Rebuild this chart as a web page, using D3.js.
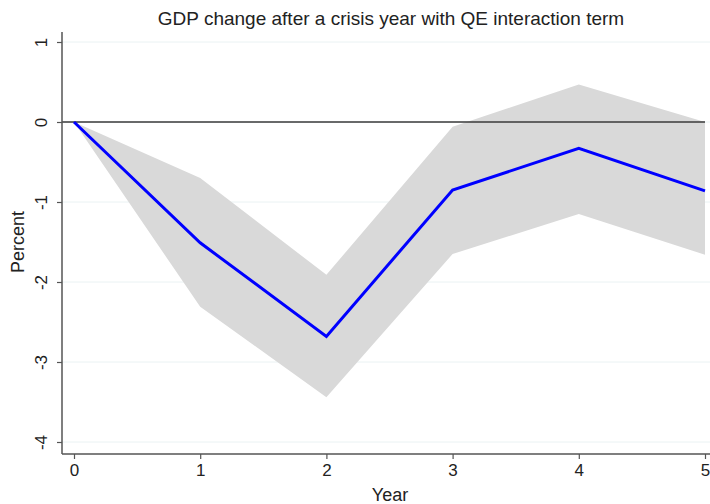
<!DOCTYPE html>
<html>
<head>
<meta charset="utf-8">
<script src="https://cdn.jsdelivr.net/npm/d3@7/dist/d3.min.js"></script>
<style>
  html, body { margin: 0; padding: 0; background: #fff; }
  svg { display: block; font-family: "Liberation Sans", Arial, sans-serif; }
</style>
</head>
<body>
<svg id="chart" width="710" height="504"></svg>
<script>
// Impulse response of GDP after a crisis year, with confidence band
const years = [0, 1, 2, 3, 4, 5];
const estimate = [0, -1.51, -2.68, -0.85, -0.33, -0.86];
const upperBound = [0, -0.70, -1.91, -0.06, 0.47, 0.0];
const lowerBound = [0, -2.31, -3.44, -1.65, -1.15, -1.66];
const yTicks = [1, 0, -1, -2, -3, -4];
const xTicks = [0, 1, 2, 3, 4, 5];

const svg = d3.select("#chart");
const x = d3.scaleLinear().domain([0, 5]).range([74, 705]);
const y = d3.scaleLinear().domain([-4, 1]).range([442, 42]);
const plotLeft = 62, plotRight = 710, plotBottom = 454, plotTop = 32;
const fmt = d => String(d); // plain hyphen-minus for negatives

// light horizontal gridlines
svg.append("g").selectAll("line").data(yTicks).join("line")
  .attr("x1", plotLeft).attr("x2", plotRight)
  .attr("y1", d => y(d)).attr("y2", d => y(d))
  .attr("stroke", "#eaf2f3").attr("stroke-width", 1);

// confidence band
const rows = years.map((t, i) => ({ t, lo: lowerBound[i], hi: upperBound[i], est: estimate[i] }));
svg.append("path").datum(rows)
  .attr("d", d3.area().x(d => x(d.t)).y0(d => y(d.lo)).y1(d => y(d.hi)))
  .attr("fill", "#d9d9d9");

// zero reference line
svg.append("line")
  .attr("x1", plotLeft).attr("x2", x(5))
  .attr("y1", y(0)).attr("y2", y(0))
  .attr("stroke", "#3a3a3a").attr("stroke-width", 1.5);

// point estimate
svg.append("path").datum(rows)
  .attr("d", d3.line().x(d => x(d.t)).y(d => y(d.est)))
  .attr("fill", "none").attr("stroke", "#0000ff").attr("stroke-width", 3)
  .attr("stroke-linejoin", "miter");

// y axis
const yAxis = svg.append("g").attr("transform", `translate(${plotLeft},0)`)
  .call(d3.axisLeft(y).tickValues(yTicks).tickSize(5).tickPadding(0).tickFormat(fmt));
yAxis.select(".domain").attr("d", `M0,${plotTop}V${plotBottom}`).attr("stroke", "#555").attr("stroke-width", 1.5);
yAxis.selectAll(".tick line").attr("stroke", "#555").attr("stroke-width", 1.2);
yAxis.selectAll(".tick text")
  .attr("x", null)
  .attr("text-anchor", "middle")
  .attr("transform", "translate(-21,0) rotate(-90)")
  .attr("dy", "0.35em")
  .attr("font-size", 17).attr("fill", "#222")
  .style("font-family", "'Liberation Sans', Arial, sans-serif");

// x axis
const xAxis = svg.append("g").attr("transform", `translate(0,${plotBottom})`)
  .call(d3.axisBottom(x).tickValues(xTicks).tickSize(5).tickPadding(5).tickFormat(fmt));
xAxis.select(".domain").attr("d", `M${plotLeft},0H${plotRight}`).attr("stroke", "#555").attr("stroke-width", 1.5);
xAxis.selectAll(".tick line").attr("stroke", "#555").attr("stroke-width", 1.2);
xAxis.selectAll(".tick text")
  .attr("font-size", 17).attr("fill", "#222")
  .style("font-family", "'Liberation Sans', Arial, sans-serif");

// titles
svg.append("text").attr("x", 391).attr("y", 25).attr("text-anchor", "middle")
  .attr("font-size", 19).attr("fill", "#222")
  .text("GDP change after a crisis year with QE interaction term");
svg.append("text").attr("x", 390).attr("y", 501).attr("text-anchor", "middle")
  .attr("font-size", 18).attr("fill", "#222").text("Year");
svg.append("text").attr("transform", "translate(24,242) rotate(-90)").attr("text-anchor", "middle")
  .attr("font-size", 18).attr("fill", "#222").text("Percent");
</script>
</body>
</html>
